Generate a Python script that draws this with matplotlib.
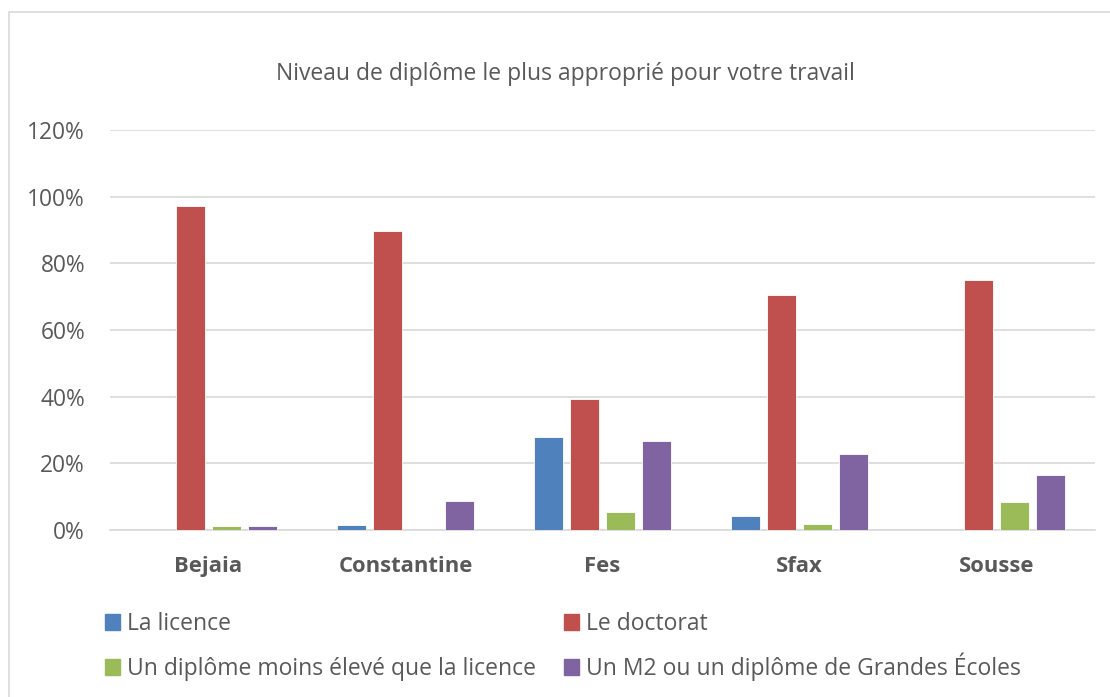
import matplotlib
matplotlib.use('Agg')
import matplotlib.pyplot as plt
from matplotlib.patches import Patch, Rectangle
from matplotlib.ticker import FuncFormatter, MultipleLocator
import numpy as np

plt.rcParams['font.family'] = ['Open Sans', 'DejaVu Sans']

# data (fractions)
villes = ['Bejaia', 'Constantine', 'Fes', 'Sfax', 'Sousse']
series = ['La licence', 'Le doctorat',
          'Un diplôme moins élevé que la licence',
          'Un M2 ou un diplôme de Grandes Écoles']
licence = [0.0, 0.014, 0.279, 0.041, 0.0]
doctorat = [0.972, 0.897, 0.393, 0.705, 0.750]
moins = [0.012, 0.0, 0.055, 0.019, 0.083]
m2 = [0.012, 0.087, 0.267, 0.228, 0.166]
couleurs = ['#4F81BD', '#C0504D', '#9BBB59', '#8064A2']
gris = '#595959'

W, H = 1110, 697
fig = plt.figure(figsize=(W / 100, H / 100), dpi=100)
ax = fig.add_axes([110/W, 1 - 530/H, 985/W, 400/H])

x = np.arange(len(villes))
w = 0.143
step = 0.183
for i, (vals, col) in enumerate(zip([licence, doctorat, moins, m2], couleurs)):
    ax.bar(x + (i - 1.5) * step, vals, width=w, color=col,
           edgecolor='white', linewidth=0.6, zorder=3)

ax.set_xlim(-0.5, 4.5)
ax.set_ylim(0, 1.2)
ax.yaxis.set_major_locator(MultipleLocator(0.2))
ax.yaxis.set_major_formatter(FuncFormatter(lambda v, p: '%d%%' % round(v * 100)))
ax.grid(axis='y', color='#d9d9d9', linewidth=1.2, zorder=0)
for s in ax.spines.values():
    s.set_visible(False)
ax.spines['bottom'].set_visible(True)
ax.spines['bottom'].set_color('#d9d9d9')
ax.spines['bottom'].set_linewidth(1.2)
ax.tick_params(length=0)
ax.tick_params(axis='y', labelsize=16.4, labelcolor=gris, pad=18)
ax.set_xticks(x)
ax.set_xticklabels(villes, fontsize=15.8, fontweight='bold', color=gris)
ax.tick_params(axis='x', pad=19)

fig.text(565/W, 1 - 74/H, 'Niveau de diplôme le plus approprié pour votre travail',
         ha='center', va='center', fontsize=16.5, color=gris)

# legend: one entry per slot so both columns share baselines
# (x of the square, y of the bottom of the text line) in pixels
slots = [(105, 636), (564, 636), (105, 681), (564, 681)]
for idx, (px, py) in enumerate(slots):
    fig.legend([Patch(color=couleurs[idx])], [series[idx]],
               loc='lower left', bbox_to_anchor=(px / W, 1 - py / H),
               frameon=False, fontsize=16.5, labelcolor=gris,
               borderpad=0, borderaxespad=0,
               handlelength=0.65, handleheight=0.65, handletextpad=0.3)

# outer frame of the chart
fig.patches.append(Rectangle((9/W, -0.1), 1.2, 1 - 12/H + 0.1,
                             transform=fig.transFigure, fill=False,
                             edgecolor='#d9d9d9', linewidth=1.2))

plt.savefig('out.png', dpi=100)
